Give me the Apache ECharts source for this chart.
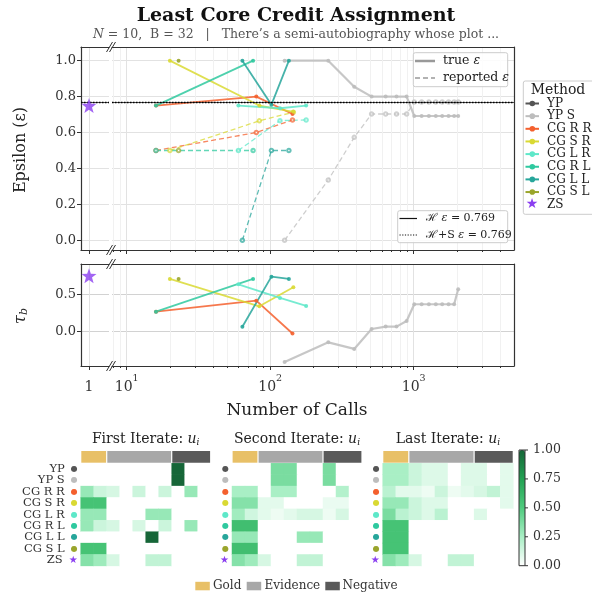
<!DOCTYPE html>
<html><head><meta charset="utf-8">
<script src="https://cdn.jsdelivr.net/npm/echarts@6/dist/echarts.min.js"></script>
<style>html,body{margin:0;padding:0;background:#fff}#c{width:592px;height:598px}</style>
</head><body><div id="c"></div>
<script>
// ---------------- data ----------------
const methods = ['YP','YP S','CG R R','CG S R','CG L R','CG R L','CG L L','CG S L','ZS'];
const methodColors = ['#555555','#bdbdbd','#f4602e','#d9d933','#5ee8c9','#2fc99f','#27a69b','#9aa52c','#8b3ff0'];

const ypsCalls = [126,254,385,509,638,759,893,1009,1136,1276,1426,1580,1750,1914,2042];
const ypsTrue  = [1.0,1.0,0.855,0.8,0.8,0.8,0.8,0.692,0.692,0.692,0.692,0.692,0.692,0.692,0.692];
const ypsRep   = [0.0,0.336,0.573,0.703,0.703,0.703,0.703,0.77,0.77,0.77,0.77,0.77,0.77,0.77,0.77];
const ypsTau   = [-0.415,-0.149,-0.238,0.031,0.063,0.063,0.139,0.365,0.365,0.365,0.365,0.365,0.365,0.365,0.567];

const cgrrCalls = [16,80,143];  const cgrrTrue = [0.75,0.80,0.703]; const cgrrRep = [0.5,0.6,0.67];   const cgrrTau = [0.265,0.414,-0.03];
const cgsrCalls = [20,84,145];  const cgsrTrue = [1.0,0.75,0.715];  const cgsrRep = [0.5,0.665,0.713]; const cgsrTau = [0.707,0.338,0.595];
const cglrCalls = [60,117,178]; const cglrTrue = [0.75,0.735,0.75]; const cglrRep = [0.5,0.666,0.67]; const cglrTau = [0.635,0.45,0.342];
const cgrlCalls = [16,76];      const cgrlTrue = [0.75,1.0];        const cgrlRep = [0.5,0.5];         const cgrlTau = [0.265,0.707];
const cgllCalls = [64,102,135]; const cgllTrue = [1.0,0.755,1.0];   const cgllRep = [0.0,0.5,0.5];     const cgllTau = [0.062,0.738,0.707];
const cgslCalls = [23];         const cgslTrue = [1.0];             const cgslRep = [0.5];             const cgslTau = [0.707];

const zsCalls = 1, zsEps = 0.75, zsTau = 0.75;
const hEps = 0.769, hsEps = 0.769;

const epsTicks = [0,0.2,0.4,0.6,0.8,1.0];
const tauTicks = [0,0.5];
const callTicks = [10,100,1000];
const callMinorTicks = [8,9,20,30,40,50,60,70,80,90,200,300,400,500,600,700,800,900,2000,3000,4000];
const cbTicks = [0,0.25,0.5,0.75,1.0];

const hmCols = ['G1','G2','E1','E2','E3','E4','E5','N1','N2','N3'];
const colGroups = ['Gold','Gold','Evidence','Evidence','Evidence','Evidence','Evidence','Negative','Negative','Negative'];

const firstIterate = [
 [0,0,0,0,0,0,0,1.0,0,0],
 [0,0,0,0,0,0,0,1.0,0,0],
 [0.3,0.15,0.12,0,0.15,0,0.15,0,0.3,0],
 [0.55,0.55,0,0,0,0,0,0,0,0],
 [0.3,0.3,0,0,0,0.3,0.3,0,0,0],
 [0.3,0.15,0.12,0,0.12,0,0.15,0,0.3,0],
 [0,0,0,0,0,1.0,0,0,0,0],
 [0.55,0.55,0,0,0,0,0,0,0,0],
 [0.35,0.28,0.12,0,0,0.18,0.18,0,0,0]
];
const secondIterate = [
 [0,0,0,0.38,0.38,0,0,0.38,0,0],
 [0,0,0,0.38,0.38,0,0,0.38,0,0],
 [0.25,0.25,0,0.25,0.25,0,0,0,0.22,0],
 [0.35,0.35,0.08,0.08,0,0,0,0.06,0.06,0],
 [0.27,0.14,0.08,0.05,0.08,0.12,0.12,0.05,0.12,0],
 [0.58,0.58,0,0,0,0,0,0,0,0],
 [0.3,0.3,0,0,0,0.3,0.3,0,0,0],
 [0.58,0.58,0,0,0,0,0,0,0,0],
 [0.35,0.28,0.12,0,0,0.18,0.18,0,0,0]
];
const lastIterate = [
 [0.25,0.25,0.15,0.1,0.1,0,0.1,0.1,0,0.08],
 [0.25,0.25,0.15,0.1,0.1,0,0.1,0.1,0,0.08],
 [0.2,0.08,0.08,0.05,0.15,0.05,0.08,0.12,0.18,0.08],
 [0.3,0.3,0.15,0.1,0.1,0,0,0,0,0.08],
 [0.38,0.2,0.15,0.1,0.2,0,0,0.1,0,0],
 [0.55,0.55,0,0,0,0,0,0,0,0],
 [0.55,0.55,0,0,0,0,0,0,0,0],
 [0.55,0.55,0,0,0,0,0,0,0,0],
 [0.35,0.28,0.12,0,0,0.18,0.18,0,0,0]
];
const hmTitles = ['First Iterate: ','Second Iterate: ','Last Iterate: '];

// ---------------- chart ----------------
const SERIF = "'DejaVu Serif', serif";
const gridCol = '#e2e2e2', minorCol = '#f1f1f1', spineCol = '#333';
const logMin = 7.9, logMax = 5000;
const epsMin = -0.054, epsMax = 1.076, tauMin = -0.469, tauMax = 0.909;
const chart = echarts.init(document.getElementById('c'));

const traj = [
 {m:1, calls:ypsCalls, eps:ypsTrue, rep:ypsRep, tau:ypsTau, w:2.2},
 {m:2, calls:cgrrCalls, eps:cgrrTrue, rep:cgrrRep, tau:cgrrTau},
 {m:3, calls:cgsrCalls, eps:cgsrTrue, rep:cgsrRep, tau:cgsrTau},
 {m:4, calls:cglrCalls, eps:cglrTrue, rep:cglrRep, tau:cglrTau},
 {m:5, calls:cgrlCalls, eps:cgrlTrue, rep:cgrlRep, tau:cgrlTau},
 {m:6, calls:cgllCalls, eps:cgllTrue, rep:cgllRep, tau:cgllTau},
 {m:7, calls:cgslCalls, eps:cgslTrue, rep:cgslRep, tau:cgslTau}
];
const pair = (xs, ys) => xs.map((x,i)=>[x, ys[i]]);
const STAR = 'path://M0,-10L2.35,-3.24L9.51,-3.09L3.8,1.24L5.88,8.09L0,4L-5.88,8.09L-3.8,1.24L-9.51,-3.09L-2.35,-3.24Z';

const aLine = {show:true, onZero:false, lineStyle:{color:spineCol, width:1.2}};
const hiddenLine = {show:false, onZero:false};
const noTick = {show:false}, noLabel = {show:false}, noSplit = {show:false};
const tickStyle = {color:spineCol, width:1};
function logAx(grid, pos, o){ return Object.assign({gridIndex:grid, type:'log', logBase:10, min:logMin, max:logMax, position:pos, axisLine:hiddenLine, axisTick:noTick, axisLabel:noLabel, splitLine:noSplit}, o); }
function segAx(grid, pos, o){ return Object.assign({gridIndex:grid, type:'value', min:0, max:3.5, position:pos, axisLine:hiddenLine, axisTick:noTick, axisLabel:noLabel, splitLine:noSplit}, o); }

const xLabelStyle = {fontFamily:SERIF, color:'#333', margin:8,
  rich:{b:{fontFamily:SERIF, fontSize:14, color:'#333', lineHeight:20, verticalAlign:'bottom'},
        s:{fontFamily:SERIF, fontSize:9.5, color:'#333', lineHeight:20, verticalAlign:'top'}}};

const xAxis = [
 segAx(0,'bottom',{axisLine:aLine, axisTick:{show:true, customValues:[zsCalls], length:4, lineStyle:tickStyle}, splitLine:{show:true, lineStyle:{color:gridCol}}}),
 segAx(0,'top',{axisLine:aLine}),
 logAx(1,'bottom',{axisLine:aLine, axisTick:{show:true, customValues:callTicks, length:4, lineStyle:tickStyle}, splitLine:{show:true, lineStyle:{color:gridCol}}}),
 logAx(1,'top',{axisLine:aLine}),
 logAx(1,'bottom',{axisTick:{show:true, customValues:callMinorTicks, length:2, lineStyle:tickStyle}, splitLine:{show:true, lineStyle:{color:minorCol}}}),
 segAx(2,'bottom',{axisLine:aLine, axisTick:{show:true, customValues:[zsCalls], length:4, lineStyle:tickStyle}, axisLabel:Object.assign({show:true, customValues:[zsCalls], formatter:v=>'{b|'+v+'}'}, xLabelStyle), splitLine:{show:true, lineStyle:{color:gridCol}}}),
 segAx(2,'top',{axisLine:aLine}),
 logAx(3,'bottom',{axisLine:aLine, axisTick:{show:true, customValues:callTicks, length:4, lineStyle:tickStyle}, axisLabel:Object.assign({show:true, customValues:callTicks, formatter:v=>'{b|10}{s|'+Math.round(Math.log10(v))+'}'}, xLabelStyle), splitLine:{show:true, lineStyle:{color:gridCol}}}),
 logAx(3,'top',{axisLine:aLine}),
 logAx(3,'bottom',{axisTick:{show:true, customValues:callMinorTicks, length:2, lineStyle:tickStyle}, splitLine:{show:true, lineStyle:{color:minorCol}}}),
];
const hmX0 = xAxis.length;
[0,1,2].forEach(k=>xAxis.push({gridIndex:4+k, type:'category', data:hmCols, show:false}));

const yLab = {show:true, fontFamily:SERIF, fontSize:13, color:'#333', margin:5};
const yAxis = [
 {gridIndex:0, type:'value', min:epsMin, max:epsMax, position:'left', axisLine:aLine, axisTick:{show:true, customValues:epsTicks, length:4, lineStyle:tickStyle}, axisLabel:Object.assign({customValues:epsTicks, formatter:v=>v.toFixed(1)}, yLab), splitLine:{show:true, lineStyle:{color:gridCol}}},
 {gridIndex:1, type:'value', min:epsMin, max:epsMax, position:'right', axisLine:aLine, axisTick:{show:false, customValues:epsTicks}, axisLabel:noLabel, splitLine:{show:true, lineStyle:{color:gridCol}}},
 {gridIndex:2, type:'value', min:tauMin, max:tauMax, position:'left', axisLine:aLine, axisTick:{show:true, customValues:tauTicks, length:4, lineStyle:tickStyle}, axisLabel:Object.assign({customValues:tauTicks, formatter:v=>v.toFixed(1)}, yLab), splitLine:{show:true, lineStyle:{color:'#d2d2d2'}}},
 {gridIndex:3, type:'value', min:tauMin, max:tauMax, position:'right', axisLine:aLine, axisTick:{show:false, customValues:tauTicks}, axisLabel:noLabel, splitLine:{show:true, lineStyle:{color:'#d2d2d2'}}},
];
const hmY0 = yAxis.length;
const dotRich = {};
methods.forEach((m,i)=>{ dotRich['d'+i] = {color:methodColors[i], fontSize: i===8 ? 10 : 8, fontFamily:'DejaVu Sans', lineHeight:11}; });
dotRich.t = {fontFamily:SERIF, fontSize:11.5, color:'#333', padding:[0,6,0,0], lineHeight:11};
[0,1,2].forEach(k=>yAxis.push({gridIndex:4+k, type:'category', data:methods, inverse:true,
  axisLine:{show:false, onZero:false}, axisTick:{show:false}, splitLine:{show:false},
  axisLabel:{show:true, interval:0, margin:3, rich:dotRich, formatter:(v,i)=>{ const d='{d'+i+'|'+(i===8?'\u2605':'\u25CF')+'}'; return k===0 ? '{t|'+v+'}'+d : d; }}}));

const series = [];
traj.forEach(t=>{
  const c = methodColors[t.m];
  series.push({type:'line', name:methods[t.m]+' true', xAxisIndex:2, yAxisIndex:1, data:pair(t.calls,t.eps), z:3,
    symbol:'circle', symbolSize:4, itemStyle:{color:c, opacity:0.9}, lineStyle:{color:c, width:t.w||1.8, opacity:0.85}});
  series.push({type:'line', name:methods[t.m]+' reported', xAxisIndex:2, yAxisIndex:1, data:pair(t.calls,t.rep), z:2,
    symbol:'emptyCircle', symbolSize:3.5, itemStyle:{color:c, opacity:0.7}, lineStyle:{color:c, width:1.3, type:[5,3], opacity:0.75}});
  series.push({type:'line', name:methods[t.m]+' tau', xAxisIndex:7, yAxisIndex:3, data:pair(t.calls,t.tau), z:3,
    symbol:'circle', symbolSize:4, itemStyle:{color:c, opacity:0.9}, lineStyle:{color:c, width:t.w||1.8, opacity:0.85}});
});
const hl = (xi, yi) => ({type:'line', xAxisIndex:xi, yAxisIndex:yi, data:[], z:6, silent:true,
  markLine:{symbol:'none', silent:true, label:{show:false}, animation:false, data:[
    {yAxis:hEps, lineStyle:{color:'#222', width:1, type:'solid', opacity:0.8}},
    {yAxis:hsEps, lineStyle:{color:'#000', width:1.3, type:[1.5,1.5]}}]}});
series.push(hl(0,0), hl(2,1));
series.push({type:'scatter', xAxisIndex:0, yAxisIndex:0, data:[[zsCalls,zsEps]], symbol:STAR, symbolSize:15, itemStyle:{color:methodColors[8]}, z:7});
series.push({type:'scatter', xAxisIndex:5, yAxisIndex:2, data:[[zsCalls,zsTau]], symbol:STAR, symbolSize:15, itemStyle:{color:methodColors[8]}, z:7});
const hmSeries0 = series.length;
[firstIterate, secondIterate, lastIterate].forEach((mat,k)=>{
  const d = [];
  mat.forEach((row,r)=>row.forEach((v,c)=>d.push([c,r,v])));
  series.push({type:'heatmap', xAxisIndex:hmX0+k, yAxisIndex:hmY0+k, data:d, silent:true, itemStyle:{borderWidth:0}});
});

const grid = [
 {left:81, top:47, width:28, height:203},
 {left:112, top:47, width:402, height:203},
 {left:81, top:264, width:28, height:102},
 {left:112, top:264, width:402, height:102},
 {left:80.7, top:463.3, width:130, height:102.6},
 {left:232, top:463.3, width:130, height:102.6},
 {left:382.7, top:463.3, width:130.6, height:102.6}
].map(g=>Object.assign({containLabel:false, outerBoundsMode:'none'}, g));

const option = {
  animation:false,
  backgroundColor:'#fff',
  title:{text:'Least Core Credit Assignment', left:'center', top:2, textStyle:{fontFamily:SERIF, fontSize:19, fontWeight:'bold', color:'#111'}},
  grid, xAxis, yAxis, series,
  visualMap:{type:'continuous', min:0, max:1, seriesIndex:[hmSeries0,hmSeries0+1,hmSeries0+2], calculable:false, orient:'vertical',
    left:519, top:450, itemWidth:6, itemHeight:115.7, padding:0, text:null, show:true,
    inRange:{color:['#ffffff','#a9efc5','#4fcb7e','#22a152','#166638']}}
};
chart.setOption(option);

// ---------------- annotations ----------------
const G = [];
function T(x,y,text,st){ G.push({type:'text', x, y, z:100, style:Object.assign({text, fontFamily:SERIF, fontSize:12, fill:'#222', align:'left', verticalAlign:'middle'}, st||{})}); }
function L(x1,y1,x2,y2,st){ G.push({type:'line', z:100, shape:{x1,y1,x2,y2}, style:Object.assign({stroke:'#333', lineWidth:1}, st||{})}); }
function R(x,y,w,h,st,r){ G.push({type:'rect', z:99, shape:{x,y,width:w,height:h,r:r||0}, style:st}); }

// subtitle
T(296,35,'{i|N}{n| = 10,  B = 32   |   There\u2019s a semi-autobiography whose plot ...}',{align:'center',
  rich:{i:{fontFamily:SERIF, fontStyle:'italic', fontSize:12.5, fill:'#555'}, n:{fontFamily:SERIF, fontSize:12.5, fill:'#555'}}});
// axis titles
G.push({type:'text', x:21, y:150, rotation:Math.PI/2, z:100, style:{text:'Epsilon (\u03b5)', fontFamily:SERIF, fontSize:16, fill:'#222', align:'center', verticalAlign:'middle'}});
G.push({type:'text', x:21, y:316, rotation:Math.PI/2, z:100, style:{text:'{a|\u03c4}{b|b}', align:'center', verticalAlign:'middle',
  rich:{a:{fontFamily:SERIF, fontSize:16, fontStyle:'italic', fill:'#222'}, b:{fontFamily:SERIF, fontSize:11, fontStyle:'italic', fill:'#222', padding:[6,0,0,0]}}}});
T(297,411,'Number of Calls',{align:'center', fontSize:17});
// break marks
[[47,250],[264,366]].forEach(p=>p.forEach(y=>{ [109.5,112.5].forEach(x=>L(x-3,y+5,x+3,y-5,{stroke:'#333',lineWidth:1})); }));
// inner legend: true / reported
R(413.3,52.7,94.4,34,{fill:'rgba(255,255,255,0.85)', stroke:'#cccccc', lineWidth:1},2);
L(415,61,435,61,{stroke:'#999', lineWidth:2.5});
T(443,60.5,'{a|true }{e|\u03b5}',{rich:{a:{fontFamily:SERIF,fontSize:12.5,fill:'#222'},e:{fontFamily:SERIF,fontSize:12.5,fontStyle:'italic',fill:'#222'}}});
L(415,78,435,78,{stroke:'#999', lineWidth:1.5, lineDash:[5,3]});
T(443,77.5,'{a|reported }{e|\u03b5}',{rich:{a:{fontFamily:SERIF,fontSize:12.5,fill:'#222'},e:{fontFamily:SERIF,fontSize:12.5,fontStyle:'italic',fill:'#222'}}});
// inner legend: H lines
R(397.7,210.7,110,32,{fill:'rgba(255,255,255,0.85)', stroke:'#cccccc', lineWidth:1},2);
L(399.5,218.5,417,218.5,{stroke:'#111', lineWidth:1.2});
T(426,218.5,'{a|\u210B }{e|\u03b5}{a| = 0.769}',{rich:{a:{fontFamily:SERIF,fontSize:11,fill:'#222'},e:{fontFamily:SERIF,fontSize:11,fontStyle:'italic',fill:'#222'}}});
L(399.5,235,417,235,{stroke:'#111', lineWidth:1.2, lineDash:[1.2,1.5]});
T(426,235,'{a|\u210B+S }{e|\u03b5}{a| = 0.769}',{rich:{a:{fontFamily:SERIF,fontSize:11,fill:'#222'},e:{fontFamily:SERIF,fontSize:11,fontStyle:'italic',fill:'#222'}}});
// method legend
R(523.3,81,80,133.3,{fill:'#fff', stroke:'#cccccc', lineWidth:1},2);
T(558,90,'Method',{align:'center', fontSize:14});
methods.forEach((m,i)=>{
  const y = 103.5 + 12.65*i;
  if(i===8){ T(532,y,'\u2605',{align:'center', fill:methodColors[i], fontSize:14, fontFamily:'DejaVu Sans'}); }
  else { L(525.5,y,539,y,{stroke:methodColors[i], lineWidth:2}); G.push({type:'circle', z:101, shape:{cx:532.3, cy:y, r:2.8}, style:{fill:methodColors[i]}}); }
  T(547,y,m,{fontSize:12});
});
// heatmap bands and titles
const groupColors = {Gold:'#e8c067', Evidence:'#a8a8a8', Negative:'#5a5a5a'};
[0,1,2].forEach(k=>{
  const xi = hmX0+k;
  const px = c => chart.convertToPixel({xAxisIndex:xi}, c);
  const bw = px(1)-px(0);
  let s = 0;
  for(let i=1;i<=colGroups.length;i++){
    if(i===colGroups.length || colGroups[i]!==colGroups[s]){
      const xa = px(s)-bw/2+0.6, xb = px(i-1)+bw/2-0.6;
      R(xa,451,xb-xa,11.7,{fill:groupColors[colGroups[s]]});
      s = i;
    }
  }
  const cx = (px(0)+px(hmCols.length-1))/2;
  T(cx,439,'{t|'+hmTitles[k]+'}{u|u}{s|i}',{align:'center',
    rich:{t:{fontFamily:SERIF,fontSize:14,fill:'#222'},u:{fontFamily:SERIF,fontSize:14,fontStyle:'italic',fill:'#222'},s:{fontFamily:SERIF,fontSize:9,fontStyle:'italic',fill:'#222',padding:[7,0,0,0]}}});
});
// colorbar frame, ticks, labels
R(519,450,6,115.7,{fill:'none', stroke:'#333', lineWidth:1});
cbTicks.forEach(v=>{ const y = 450 + (1-v)*115.7; L(525,y,528,y,{stroke:'#333'}); T(533,y,v.toFixed(2),{fontSize:12.5, fill:'#333'}); });
// bottom legend
[['Gold',195.3,213],['Evidence',246.7,264.5],['Negative',325.3,342.5]].forEach(e=>{
  R(e[1],581.8,14.5,8.5,{fill:groupColors[e[0]]}); T(e[2],586.3,e[0],{fontSize:12, fill:'#333'});
});
chart.setOption({graphic:G});
</script></body></html>
